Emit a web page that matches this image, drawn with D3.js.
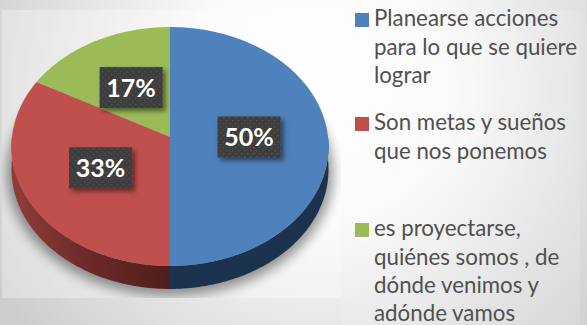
<!DOCTYPE html>
<html><head><meta charset="utf-8">
<script src="https://cdn.jsdelivr.net/npm/d3@7"></script>
<style>html,body{margin:0;padding:0;background:#fff;overflow:hidden}svg{display:block}</style>
</head><body><svg id="c" width="587" height="325"></svg>
<script>
const categories = ["Planearse acciones para lo que se quiere lograr","Son metas y sueños que nos ponemos","es proyectarse, quiénes somos , de dónde venimos y adónde vamos"];
const values = [50,33,17];
const labels = ["50%","33%","17%"];
const colors = ["#4f81bd","#c0504d","#9bbb59"];
const legendLines = [["Planearse acciones","para lo que se quiere","lograr"],["Son metas y sueños","que nos ponemos"],["es proyectarse,","quiénes somos , de","dónde venimos y","adónde vamos"]];
const legendBaselines = [[26,55,83],[130,159],[236,265,293,321]];

const W=587,H=325,x0=170,y0=137,a=158,b=118.7,k=0.0795,depth=23;
const svg=d3.select("#c");
const defs=svg.append("defs");

const bg=defs.append("radialGradient").attr("id","bg").attr("gradientUnits","userSpaceOnUse")
  .attr("cx",320).attr("cy",90).attr("r",380);
bg.append("stop").attr("offset",0).attr("stop-color","#ffffff");
bg.append("stop").attr("offset",0.35).attr("stop-color","#fafafa");
bg.append("stop").attr("offset",1).attr("stop-color","#cdcdcd");
const sideR=defs.append("linearGradient").attr("id","sideR").attr("gradientUnits","userSpaceOnUse")
  .attr("x1",170).attr("x2",12).attr("y1",0).attr("y2",0);
sideR.append("stop").attr("offset",0).attr("stop-color","#4f1e1c");
sideR.append("stop").attr("offset",0.55).attr("stop-color","#6e2b29");
sideR.append("stop").attr("offset",1).attr("stop-color","#8f3d3a");
defs.append("filter").attr("id","blur").attr("x","-20%").attr("y","-20%").attr("width","140%").attr("height","140%")
  .append("feGaussianBlur").attr("stdDeviation",6);
const sh=defs.append("filter").attr("id","ls").attr("x","-30%").attr("y","-30%").attr("width","160%").attr("height","160%");
sh.append("feDropShadow").attr("dx",3).attr("dy",3).attr("stdDeviation",2.5).attr("flood-color","#000").attr("flood-opacity",0.5);
const pat=defs.append("pattern").attr("id","dots").attr("width",6).attr("height",6).attr("patternUnits","userSpaceOnUse");
pat.append("rect").attr("width",6).attr("height",6).attr("fill","#3c3c3c");
pat.append("rect").attr("x",1).attr("y",1).attr("width",1.5).attr("height",1.5).attr("fill","#525252");
pat.append("rect").attr("x",4).attr("y",4).attr("width",1.5).attr("height",1.5).attr("fill","#525252");
defs.append("clipPath").attr("id","shclip").append("rect").attr("x",2).attr("y",70).attr("width",339).attr("height",228);

svg.append("rect").attr("width",W).attr("height",H).attr("fill","url(#bg)");
// lighter panels behind the plot and the legend
svg.append("rect").attr("x",2).attr("y",10).attr("width",339).attr("height",288).attr("fill","#fff").attr("opacity",0.3);
svg.append("rect").attr("x",341).attr("y",10).attr("width",239).attr("height",315).attr("fill","#fff").attr("opacity",0.12);

// projected circle: theta clockwise from the top, f = fraction of the radius
const proj=(t,f=1)=>{const u=Math.sin(t)*f,v=Math.cos(t)*f,w=1+k*v;return [x0+a*u/w,y0-b*v/w];};
const pie=d3.pie().sort(null).value(d=>d)(values);
const samples=(s,e)=>d3.range(0,121).map(i=>s+(e-s)*i/120);
const line=d3.line();
const sector=p=>line([[x0,y0],...samples(p.startAngle,p.endAngle).map(t=>proj(t))])+"Z";
const wall=(s,e)=>{const top=samples(s,e).map(t=>proj(t));const bot=top.slice().reverse().map(([x,y])=>[x,y+depth]);return line([...top,...bot])+"Z";};

// soft shadow beneath the pie
const ring=samples(0,2*Math.PI).map(t=>{const [x,y]=proj(t,1.03);return [x,y+depth+3];});
svg.append("g").attr("clip-path","url(#shclip)").append("path").attr("d",line(ring)+"Z")
  .attr("fill","#000").attr("opacity",0.4).attr("filter","url(#blur)");

// side walls (front half only)
const pi=Math.PI;
svg.append("path").attr("d",wall(pi/2,pi)).attr("fill","#1c3350");
svg.append("path").attr("d",wall(pi,3*pi/2)).attr("fill","url(#sideR)");

// top surface
svg.selectAll("path.s").data(pie).join("path").attr("class","s").attr("d",sector)
  .attr("fill",(d,i)=>colors[i]);

// data labels
const bw=63,bh=41;
const lab=svg.selectAll("g.l").data(pie).join("g").attr("class","l")
  .attr("transform",d=>{const [x,y]=proj((d.startAngle+d.endAngle)/2,0.5);return `translate(${x},${y})`;});
lab.append("rect").attr("x",-bw/2).attr("y",-bh/2).attr("width",bw).attr("height",bh)
  .attr("fill","url(#dots)").attr("filter","url(#ls)");
lab.append("text").attr("text-anchor","middle").attr("y",9).attr("font-family","Lato, 'Open Sans', sans-serif")
  .attr("font-weight",700).attr("font-size",25).attr("fill","#fff").text((d,i)=>labels[i]);

// legend
const lg=svg.selectAll("g.k").data(categories).join("g").attr("class","k");
lg.append("rect").attr("x",355).attr("y",(d,i)=>legendBaselines[i][0]-13).attr("width",14).attr("height",14)
  .attr("fill",(d,i)=>colors[i]);
lg.each(function(d,i){
  d3.select(this).selectAll("text").data(legendLines[i]).join("text")
    .attr("x",374).attr("y",(l,j)=>legendBaselines[i][j])
    .attr("font-family","Lato, 'Open Sans', sans-serif").attr("font-size",22.3).attr("fill","#505050").text(l=>l);
});
</script></body></html>
